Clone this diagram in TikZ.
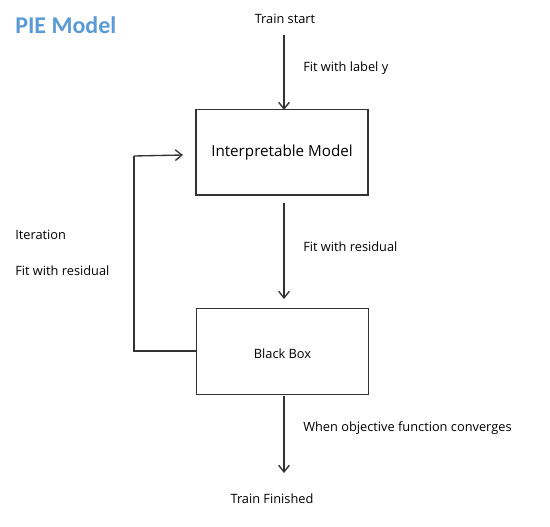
\documentclass[tikz,border=0pt]{standalone}
\usepackage{fontspec}
\setmainfont{Open Sans}
\newfontfamily\titlefont{Carlito}
\usetikzlibrary{arrows.meta}
\definecolor{titleblue}{HTML}{5B9BD5}
\definecolor{linegray}{HTML}{333333}
\tikzset{
  box/.style={draw=linegray, line width=1pt, minimum width=129pt, minimum height=64pt, inner sep=0pt},
  lbl/.style={font=\fontsize{9.6}{11}\selectfont, inner sep=0pt},
  conn/.style={draw=linegray, line width=1pt, -{Straight Barb[length=5pt,width=8pt]}},
  plain/.style={draw=linegray, line width=1pt}
}
\begin{document}
\begin{tikzpicture}[x=0.75pt,y=-0.75pt]
\useasboundingbox (0,0) rectangle (550,527);
\fill[white] (0,0) rectangle (550,527);
% title
\node[anchor=west, inner sep=0pt, text=titleblue, font=\titlefont\bfseries\fontsize{18}{21}\selectfont] (title) at (15,25) {PIE Model};
% boxes
\node[box] (im) at (282,152.5) {\fontsize{11.4}{13}\selectfont Interpretable Model};
\node[box, text height=12pt, text depth=2pt] (bb) at (282.5,351.5) {\fontsize{9.6}{11}\selectfont Black Box};
% terminals
\node[lbl] (start) at (285,19) {Train start};
\node[lbl] (finish) at (272,499) {Train Finished};
% labels
\node[lbl, anchor=west] (l1) at (303,68) {Fit with label y};
\node[lbl, anchor=west] (l2) at (303,247) {Fit with residual};
\node[lbl, anchor=west] (l3) at (303,428) {When objective function converges};
\node[lbl, anchor=west] (l4) at (15,235) {Iteration};
\node[lbl, anchor=west] (l5) at (15,271) {Fit with residual};
% coordinates
\coordinate (a1s) at (284,35);
\coordinate (a1e) at (284,110);
\coordinate (a2s) at (284,203);
\coordinate (a2e) at (284,299);
\coordinate (a3s) at (284,396);
\coordinate (a3e) at (284,473);
\coordinate (fbA) at (134,351);
\coordinate (fbB) at (134,156);
\coordinate (fbC) at (183,155);
% connectors
\draw[conn] (a1s) -- (a1e);
\draw[conn] (a2s) -- (a2e);
\draw[conn] (a3s) -- (a3e);
\draw[plain] (bb.west |- fbA) -- (fbA) -- (fbB);
\draw[conn] (fbB) -- (fbC);
\end{tikzpicture}
\end{document}
